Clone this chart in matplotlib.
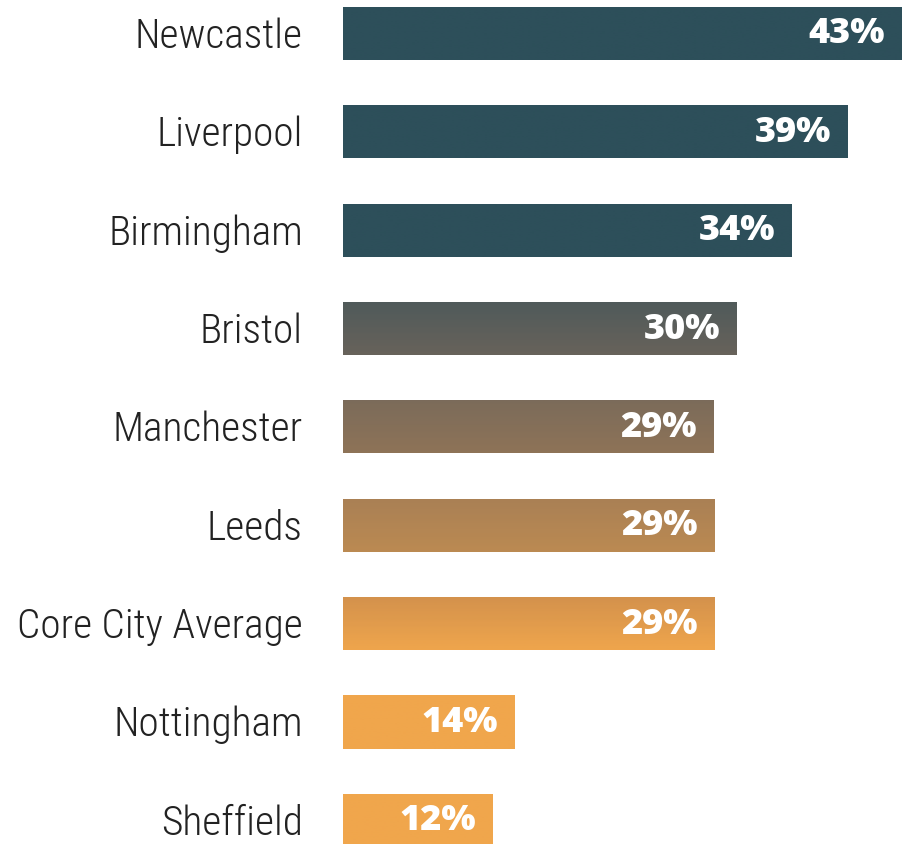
import numpy as np
import matplotlib.pyplot as plt
from matplotlib.colors import LinearSegmentedColormap, Normalize

cities = ['Newcastle', 'Liverpool', 'Birmingham', 'Bristol', 'Manchester',
          'Leeds', 'Core City Average', 'Nottingham', 'Sheffield']
values = [43.0, 38.8, 34.5, 30.3, 28.5, 28.6, 28.6, 13.2, 11.5]
pct_labels = ['43%', '39%', '34%', '30%', '29%', '29%', '29%', '14%', '12%']

# vertical colour ramp (row position -> colour)
stops = [(2.29, '#2d4f5a'), (2.71, '#4f5a5b'), (3.25, '#67625a'),
         (3.79, '#7d6c5a'), (4.32, '#907457'), (4.73, '#a98055'),
         (5.27, '#bb8a52'), (5.76, '#d4924c'), (6.30, '#f0a64c')]

y_top, y_bot = -0.35, 8.24
norm = Normalize(y_top, y_bot)
cmap = LinearSegmentedColormap.from_list(
    'ramp', [(0, stops[0][1])] + [(norm(p), c) for p, c in stops] + [(1, stops[-1][1])])

fig = plt.figure(figsize=(9.02, 8.45), dpi=100)
ax = fig.add_axes([0.3803, 0, 0.6197, 1])

ypos = np.arange(len(cities))
bars = ax.barh(ypos, values, height=0.54, color='none', edgecolor='none')

grad = np.linspace(y_top, y_bot, 400).reshape(-1, 1)
for b in bars:
    im = ax.imshow(grad, extent=[0, 43, y_bot, y_top], aspect='auto',
                   cmap=cmap, norm=norm, origin='upper', interpolation='bilinear')
    im.set_clip_path(b)

for y, v, lab in zip(ypos, values, pct_labels):
    ax.annotate(lab, (v, y), xytext=(-12, 0), textcoords='offset points',
                ha='right', va='center', color='white', fontsize=26,
                fontweight='heavy', family='Open Sans')

for y, name in zip(ypos, cities):
    ax.annotate(name, (0, y), xytext=(-29, -1.5), textcoords='offset points',
                ha='right', va='center', color='#222222', fontsize=29.8,
                family=['Roboto Condensed', 'DejaVu Sans'], fontweight='light',
                fontstretch='condensed', annotation_clip=False)

ax.set_xlim(0, 43)
ax.set_ylim(y_bot, y_top)
ax.axis('off')

fig.savefig('out.png', dpi=100)
